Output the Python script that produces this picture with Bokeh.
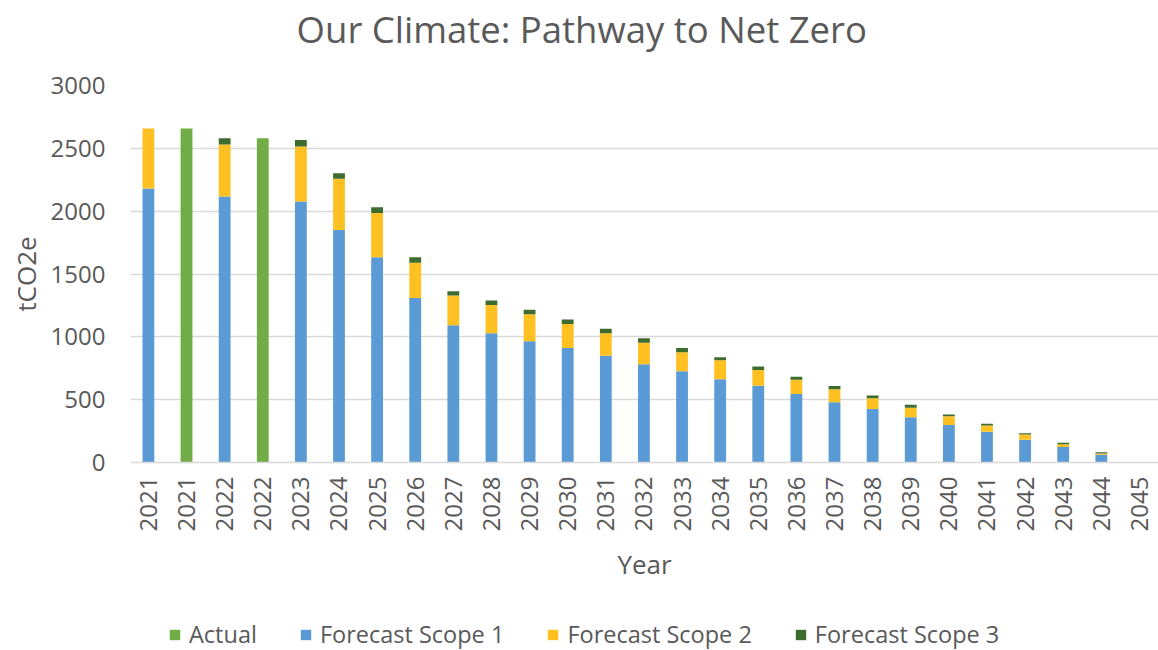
from bokeh.plotting import figure
from bokeh.layouts import column
from bokeh.models import (ColumnDataSource, FixedTicker, Legend, LegendItem, Range1d, Label)
from bokeh.embed import file_html
from bokeh.resources import INLINE
import math

categories = ["2021", "2021", "2022", "2022"] + [str(y) for y in range(2023, 2046)]
actual = [0, 2657, 0, 2580] + [0] * 23
scope1 = [2180, 0, 2116, 0, 2076, 1851, 1633, 1310, 1093, 1029, 965, 912, 849, 782,
          726, 663, 610, 546, 480, 425, 361, 298, 245, 182, 124, 61, 0]
scope2 = [477, 0, 414, 0, 438, 406, 353, 279, 235, 225, 215, 191, 180, 170,
          151, 151, 127, 113, 103, 87, 74, 71, 50, 40, 21, 10, 0]
scope3 = [0, 0, 50, 0, 53, 45, 45, 44, 35, 35, 35, 35, 35, 37,
          35, 24, 27, 24, 26, 21, 24, 13, 14, 10, 13, 11, 0]
series_names = ["Actual", "Forecast Scope 1", "Forecast Scope 2", "Forecast Scope 3"]
series_colors = ["#70AD47", "#5B9BD5", "#FFC022", "#3E6B2E"]
chart_title = "Our Climate: Pathway to Net Zero"

xs = list(range(len(categories)))
src = ColumnDataSource(dict(x=xs, actual=actual, scope1=scope1, scope2=scope2, scope3=scope3))

FONT = "Open Sans"
GREY = "#595959"


def strip(h):
    f = figure(width=1158, height=h, output_backend="svg", toolbar_location=None,
               x_range=Range1d(0, 1), y_range=Range1d(0, 1),
               x_axis_location=None, y_axis_location=None,
               min_border_left=0, min_border_right=0, min_border_top=0, min_border_bottom=0)
    f.outline_line_color = None
    f.xgrid.grid_line_color = None
    f.ygrid.grid_line_color = None
    return f


# title strip
tt = strip(60)
tt.add_layout(Label(x=0.439, y=0.52, text=chart_title, text_align="center",
                    text_baseline="middle", text_font=FONT, text_font_size="36.5px",
                    text_color=GREY))

# main chart
p = figure(width=1158, height=530, output_backend="svg", toolbar_location=None,
           x_range=Range1d(-0.47, 26.5), y_range=Range1d(0, 3000),
           min_border_left=130, min_border_right=0, min_border_top=25, min_border_bottom=128)
p.title = None

w = 0.31
r_act = p.vbar(x="x", top="actual", width=w, source=src, color=series_colors[0], line_color=None)
rs = p.vbar_stack(["scope1", "scope2", "scope3"], x="x", width=w, source=src,
                  color=series_colors[1:], line_color=None)

p.outline_line_color = None
p.background_fill_color = "white"
p.border_fill_color = "white"

p.xgrid.grid_line_color = None
p.ygrid.grid_line_color = "#D9D9D9"
p.ygrid.grid_line_width = 1.5
p.yaxis.ticker = FixedTicker(ticks=[0, 500, 1000, 1500, 2000, 2500, 3000])
p.yaxis.axis_line_color = None
p.yaxis.major_tick_line_color = None
p.yaxis.minor_tick_line_color = None
p.yaxis.major_label_text_font = FONT
p.yaxis.major_label_text_font_size = "24px"
p.yaxis.major_label_text_color = GREY
p.yaxis.major_label_standoff = 19
p.yaxis.axis_label = "tCO2e"
p.yaxis.axis_label_text_font = FONT
p.yaxis.axis_label_text_font_size = "26px"
p.yaxis.axis_label_text_color = GREY
p.yaxis.axis_label_text_font_style = "normal"
p.yaxis.axis_label_standoff = 4

p.xaxis.ticker = FixedTicker(ticks=xs)
p.xaxis.major_label_overrides = {i: c for i, c in zip(xs, categories)}
p.xaxis.major_label_orientation = math.pi / 2
p.xaxis.axis_line_color = "#D9D9D9"
p.xaxis.axis_line_width = 1.5
p.xaxis.major_tick_line_color = None
p.xaxis.minor_tick_line_color = None
p.xaxis.major_label_text_font = FONT
p.xaxis.major_label_text_font_size = "24px"
p.xaxis.major_label_text_color = GREY
p.xaxis.major_label_standoff = 8
p.xaxis.axis_label = "Year"
p.xaxis.axis_label_text_font = FONT
p.xaxis.axis_label_text_font_size = "26px"
p.xaxis.axis_label_text_color = GREY
p.xaxis.axis_label_text_font_style = "normal"
p.xaxis.axis_label_standoff = 12

# legend strip below the chart
lg = strip(60)
items = []
for name, col in zip(series_names, series_colors):
    r = lg.vbar(x=[5], top=[0], width=0.1, color=col, line_color=None)
    items.append(LegendItem(label=name, renderers=[r]))
legend = Legend(items=items, orientation="horizontal", location=(38, 0))
legend.label_text_font = FONT
legend.label_text_font_size = "23.5px"
legend.label_text_color = GREY
legend.glyph_width = 13
legend.glyph_height = 13
legend.label_standoff = 8
legend.spacing = 42
legend.border_line_color = None
legend.background_fill_alpha = 0
legend.margin = 0
legend.padding = 0
lg.add_layout(legend, "center")

layout = column(tt, p, lg, spacing=0)
open("out.html", "w").write(file_html(layout, INLINE))
